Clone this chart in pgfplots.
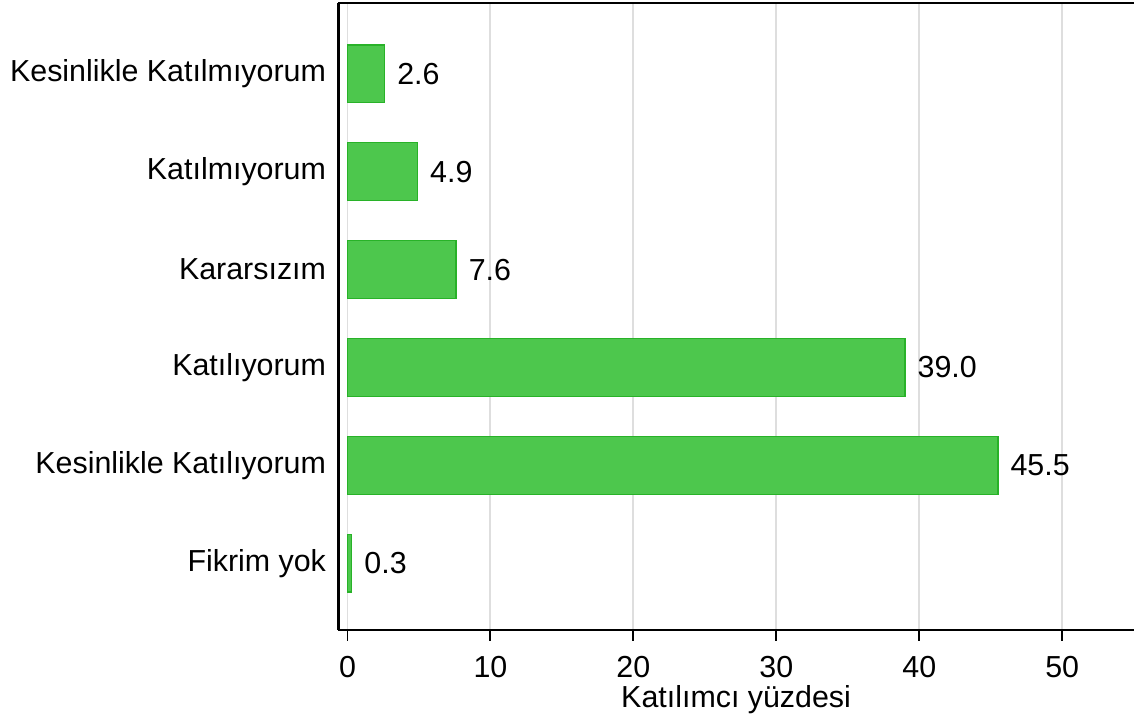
\documentclass[border=0pt]{standalone}
\usepackage{fontspec}
\setmainfont{Liberation Sans}
\usepackage{pgfplots}
\pgfplotsset{compat=1.18}
\definecolor{barfill}{RGB}{77,199,77}
\definecolor{baredge}{RGB}{40,178,40}
\definecolor{gridgray}{RGB}{222,222,222}
\begin{document}
\fontsize{15.25pt}{18pt}\selectfont
\begin{tikzpicture}
\begin{axis}[
  scale only axis, width=399pt, height=314.5pt,
  xmin=-0.63, xmax=55.0, ymin=-0.68, ymax=5.723,
  xbar, bar width=0.59,
  axis x line*=bottom, axis y line*=left,
  axis line style={black, line width=1.3pt},
  clip=false,
  xtick={0,10,20,30,40,50},
  ytick={0,1,2,3,4,5},
  yticklabels={Fikrim yok, Kesinlikle Katılıyorum, Katılıyorum, Kararsızım, Katılmıyorum, Kesinlikle Katılmıyorum},
  y tick style={draw=none},
  x tick style={black, line width=1pt},
  tick align=outside, major tick length=5.5pt,
  xmajorgrids, grid style={gridgray, line width=1pt},
  /pgf/number format/assume math mode=true,
  tick label style={font=\fontsize{15.25pt}{18pt}\selectfont},
  yticklabel style={xshift=4.5pt},
  xticklabel style={yshift=-2.5pt},
  label style={font=\fontsize{15.25pt}{18pt}\selectfont},
  xlabel={Katılımcı yüzdesi},
  xlabel style={at={(rel axis cs:0.5,0)}, anchor=center, yshift=-35pt},
  point meta=x,
  nodes near coords={\pgfmathprintnumber[fixed,fixed zerofill,precision=1]{\pgfplotspointmeta}},
  every node near coord/.append style={anchor=west, inner sep=0pt, xshift=6pt, font=\fontsize{15.25pt}{18pt}\selectfont, black},
]
\addplot[fill=barfill, draw=baredge, line width=0.7pt] coordinates {
  (0.3,0) (45.5,1) (39.0,2) (7.6,3) (4.9,4) (2.6,5)
};
\draw[black, line width=1.3pt] (rel axis cs:0,1) -- (rel axis cs:1,1);
\coordinate (sw) at (rel axis cs:0,0);
\coordinate (ne) at (rel axis cs:1,1);
\end{axis}
\path (sw) ++(-168.5pt,-46pt) coordinate (bbsw);
\path (ne) ++(0pt,1.5pt) coordinate (bbne);
\path (bbsw) rectangle (bbne);
\end{tikzpicture}
\end{document}
